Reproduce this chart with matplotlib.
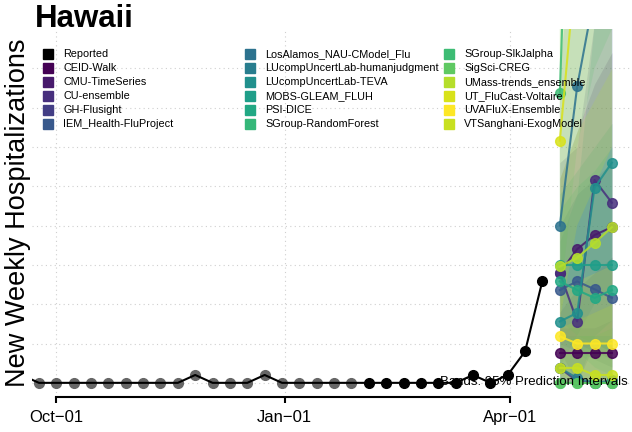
import numpy as np
import matplotlib
matplotlib.use("Agg")
import matplotlib.pyplot as plt
import matplotlib.dates as mdates

plt.rcParams['font.family'] = ['Liberation Sans', 'DejaVu Sans']

# reported weekly hospitalizations (first point lies left of the visible window)
report_dates = np.arange(np.datetime64('2023-09-17'), np.datetime64('2024-04-15'), np.timedelta64(7, 'D'))
report_vals = [1, 0, 0, 0, 0, 0, 0, 0, 0, 0, 1, 0, 0, 0, 1, 0, 0, 0, 0, 0,
               0, 0, 0, 0, 0, 0, 1, 0, 1, 4, 13]
n_grey = 20  # older points drawn grey

fc_dates = np.array(['2024-04-21', '2024-04-28', '2024-05-05', '2024-05-12'], dtype='datetime64[D]')

models = ['CEID-Walk', 'CMU-TimeSeries', 'CU-ensemble', 'GH-Flusight', 'IEM_Health-FluProject',
          'LosAlamos_NAU-CModel_Flu', 'LUcompUncertLab-humanjudgment', 'LUcompUncertLab-TEVA',
          'MOBS-GLEAM_FLUH', 'PSI-DICE', 'SGroup-RandomForest',
          'SGroup-SlkJalpha', 'SigSci-CREG', 'UMass-trends_ensemble', 'UT_FluCast-Voltaire',
          'UVAFluX-Ensemble', 'VTSanghani-ExogModel']
colors = ['#440154', '#481a6c', '#472f7d', '#433e85', '#38598c',
          '#2c728e', '#287d8e', '#21908d', '#1f9e89', '#22a884', '#35b779',
          '#3dbc74', '#5ec962', '#b5de2b', '#d8e219', '#fde725', '#c8e020']

medians = [
    [3.8, 3.8, 3.8, 3.8],
    [14.0, 17.0, 18.8, 19.8],
    [14.0, 7.8, 25.8, 22.9],
    [1.9, 0.2, 0.0, 0.0],
    [11.8, 12.9, 11.9, 10.8],
    [20.0, 37.7, 49.5, 62.0],
    [1.9, 0.6, 0.0, 0.3],
    [7.8, 8.9, 24.8, 28.0],
    [15.0, 15.0, 15.0, 15.0],
    [12.9, 11.8, 10.8, 11.8],
    [0.0, 0.0, 0.0, 0.0],
    [36.9, 100.0, 120.0, 130.0],
    [0.0, 0.0, 0.0, 0.0],
    [14.8, 15.9, 17.8, 19.8],
    [30.8, 55.0, 70.0, 80.0],
    [5.9, 5.0, 5.0, 5.0],
    [1.9, 1.9, 1.0, 1.0],
]
lower = [
    [0, 0, 0, 0], [6, 5, 4, 3], [4, 0, 5, 4], [0, 0, 0, 0], [5, 4, 3, 2],
    [2, 6, 10, 12], [0, 0, 0, 0], [2, 0, 6, 8], [8, 6, 5, 4], [6, 4, 2, 1],
    [0, 0, 0, 0], [10, 30, 40, 45], [0, 0, 0, 0], [6, 5, 5, 5], [8, 20, 25, 30],
    [1, 0, 0, 0], [0, 0, 0, 0],
]
upper = [
    [9, 12, 14, 16], [26, 32, 38, 42], [28, 30, 46, 48], [7, 7, 7, 8], [20, 24, 26, 28],
    [40, 60, 80, 100], [6, 6, 6, 6], [18, 24, 46, 50], [24, 27, 30, 33], [22, 25, 27, 30],
    [5, 6, 6, 7], [60, 160, 180, 200], [4, 4, 5, 5], [26, 32, 36, 40], [55, 90, 110, 120],
    [12, 13, 14, 15], [7, 8, 9, 10],
]

tick_dates = np.array(['2023-10-01', '2024-01-01', '2024-04-01'], dtype='datetime64[D]')
tick_labels = ['Oct\u221201', 'Jan\u221201', 'Apr\u221201']

fig = plt.figure(figsize=(6.32, 4.32), dpi=100)
ax = fig.add_axes([32 / 632, 35 / 432, 600 / 632, 368 / 432])

rx = mdates.date2num(report_dates)
fx = mdates.date2num(fc_dates)

# grid
for t in np.arange(0, 45, 5):
    ax.axhline(t, color='#cfcfcf', lw=0.8, ls=(0, (1, 3)), zorder=0)
for t in mdates.date2num(tick_dates):
    ax.axvline(t, color='#cfcfcf', lw=0.8, ls=(0, (1, 3)), zorder=0)

# prediction bands
for i in range(len(models)):
    ax.fill_between(fx, lower[i], upper[i], color=colors[i], alpha=0.16, lw=0, zorder=1)

# forecasts
for i in range(len(models)):
    ax.plot(fx, medians[i], '-o', color=colors[i], lw=1.5, ms=7, alpha=0.85, zorder=3)

# reported
ax.plot(rx[:n_grey], report_vals[:n_grey], 'o', color='#666666', ms=7, zorder=4)
ax.plot(rx[n_grey:], report_vals[n_grey:], 'o', color='black', ms=7, zorder=4)
ax.plot(rx, report_vals, '-', color='black', lw=1.5, zorder=5)

ax.set_xlim(mdates.date2num(np.datetime64('2023-09-21')) + 0.2,
            mdates.date2num(np.datetime64('2024-05-20')) + 0.1)
ax.set_ylim(-1.8, 45)

ax.set_xticks(mdates.date2num(tick_dates))
ax.set_xticklabels(tick_labels, fontsize=12)
ax.tick_params(axis='x', direction='out', length=4.5, width=1.5, pad=5)
ax.set_yticks([])
for s in ['left', 'top', 'right']:
    ax.spines[s].set_visible(False)
ax.spines['bottom'].set_linewidth(1.5)
ax.spines['bottom'].set_bounds(mdates.date2num(tick_dates[0]), mdates.date2num(tick_dates[-1]))

ax.set_ylabel('New Weekly Hospitalizations', fontsize=19.5, labelpad=0)
ax.yaxis.set_label_coords(-1 / 600, 0.5)

fig.text(35 / 632, 1 - 19 / 432, 'Hawaii', fontsize=22.5, fontweight='bold', va='center', ha='left')
fig.text(628 / 632, 1 - 382 / 432, 'Bands: 95% Prediction Intervals', fontsize=9.5,
         ha='right', va='center', zorder=10)

# legend in three columns
leg_names = ['Reported'] + models
leg_cols = ['black'] + colors
col_x = [48, 250, 449]
row_y = [54, 68, 82, 96, 110, 124]
for k, (name, c) in enumerate(zip(leg_names, leg_cols)):
    cx = col_x[k // 6]
    cy = row_y[k % 6]
    ax.plot([cx / 632], [1 - cy / 432], 's', color=c, ms=6.5, transform=fig.transFigure, clip_on=False)
    fig.text((cx + 15) / 632, 1 - cy / 432, name, fontsize=7.8, va='center', ha='left')

fig.savefig('out.png', dpi=100)
